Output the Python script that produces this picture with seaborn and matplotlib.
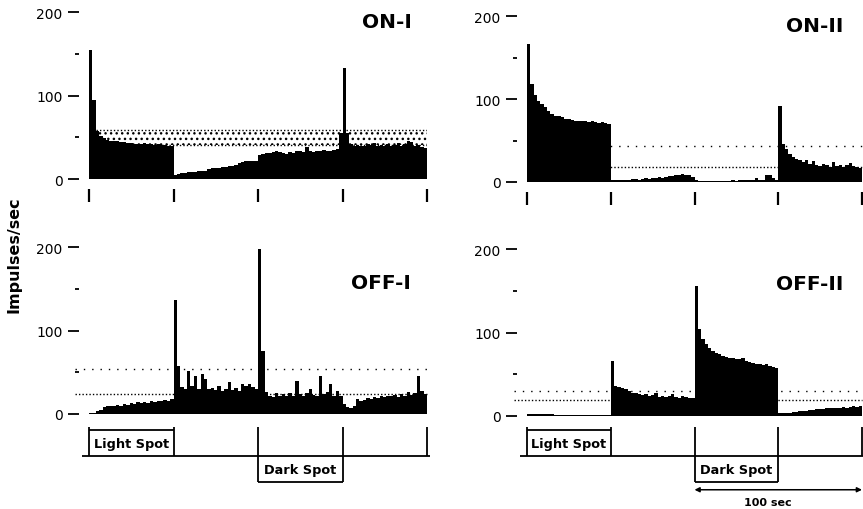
import numpy as np
import pandas as pd
import matplotlib.pyplot as plt
import seaborn as sns

sns.set_style("ticks")
plt.rcParams['font.family'] = ['DejaVu Sans']
plt.rcParams.update({"text.color": "black", "xtick.color": "black", "ytick.color": "black",
                     "axes.labelcolor": "black"})

# 2-sec bins over 200 sec (4 stimulus segments of 50 sec)
bin_edges = np.arange(0, 202, 2)
bin_centers = bin_edges[:-1] + 1
segment_bounds = [0, 50, 100, 150, 200]
light_spot = (0, 50)
dark_spot = (100, 150)

# impulses/sec per bin
on1_rates = [155, 95, 58, 52, 49, 47, 46, 45, 45, 44, 44, 43, 43, 42, 42, 42, 43, 42, 42, 41, 42, 41, 41, 40, 40,
             5, 6, 7, 7, 8, 8, 8, 9, 10, 10, 12, 13, 13, 13, 14, 14, 15, 16, 17, 19, 20, 21, 21, 22, 22,
             29, 30, 31, 31, 32, 33, 32, 31, 30, 32, 31, 33, 34, 32, 38, 33, 32, 34, 33, 35, 34, 33, 35, 36, 55,
             133, 55, 42, 40, 41, 39, 40, 42, 41, 43, 40, 41, 39, 42, 40, 41, 43, 40, 42, 46, 44, 40, 41, 38, 37]
on2_rates = [166, 118, 105, 98, 94, 90, 86, 82, 80, 79, 78, 76, 76, 75, 74, 74, 73, 74, 72, 73, 72, 71, 72, 71, 70,
             2, 2, 3, 2, 3, 3, 4, 4, 3, 4, 5, 4, 5, 5, 6, 5, 6, 7, 7, 8, 9, 10, 9, 8, 6,
             3, 1, 1, 1, 1, 1, 1, 1, 1, 1, 1, 2, 1, 2, 2, 2, 2, 3, 5, 3, 2, 8, 9, 5, 2,
             92, 46, 40, 34, 30, 28, 26, 24, 27, 22, 25, 20, 19, 22, 20, 18, 24, 19, 21, 18, 20, 23, 19, 18, 17]
off1_rates = [1, 1, 3, 5, 8, 9, 9, 10, 11, 10, 12, 11, 13, 12, 14, 13, 14, 13, 15, 14, 16, 15, 17, 16, 18,
              136, 58, 32, 30, 52, 34, 46, 30, 48, 42, 30, 31, 29, 33, 28, 30, 38, 29, 31, 28, 36, 34, 36, 32, 30,
              198, 75, 26, 22, 20, 25, 22, 24, 21, 25, 22, 40, 24, 22, 25, 30, 23, 22, 46, 24, 26, 36, 22, 27, 22,
              12, 8, 7, 10, 18, 16, 17, 19, 18, 20, 19, 21, 20, 22, 21, 23, 20, 24, 22, 26, 23, 25, 46, 27, 24]
off2_rates = [2, 2, 2, 2, 2, 2, 2, 2, 1.5, 1.5, 1, 1, 1, 1, 1, 1, 1, 1, 1, 1, 1, 1, 1, 1, 1,
              66, 36, 35, 34, 32, 30, 28, 27, 26, 25, 26, 24, 25, 27, 23, 24, 23, 24, 26, 23, 22, 24, 23, 22, 21,
              156, 104, 92, 86, 81, 78, 76, 74, 72, 71, 70, 69, 68, 68, 70, 66, 65, 64, 62, 62, 61, 62, 60, 59, 58,
              3, 3, 4, 4, 5, 5, 6, 6, 6, 7, 7, 8, 8, 8, 9, 9, 9, 10, 10, 11, 10, 11, 12, 11, 12]

# dotted reference levels (upper, lower) drawn behind each histogram
on1_levels = (59, 41)
on2_levels = (43, 18)
off1_levels = (54, 24)
off2_levels = (30, 19.5)

W, H = 863, 510
fig = plt.figure(figsize=(W / 100, H / 100), dpi=100)


def px_axes(x0, x1, y_top, y_bottom):
    return fig.add_axes([x0 / W, 1 - y_bottom / H, (x1 - x0) / W, (y_bottom - y_top) / H])


def draw_panel(ax, rates, levels, title, title_x, title_y, band=False, x_ticks=True, line_start=0):
    df = pd.DataFrame({"t": bin_centers, "rate": rates})
    sns.histplot(data=df, x="t", weights="rate", binwidth=2, binrange=(0, 200), element="step",
                 fill=True, color="black", alpha=1, linewidth=0, ax=ax, zorder=3)
    upper, lower = levels
    if band:
        ax.fill_between([line_start, 200], lower, upper, facecolor="none", edgecolor="black",
                        hatch="...", linewidth=0, zorder=1)
        ax.hlines([upper, lower], line_start, 200, colors="black", linestyles=(0, (1, 1.5)), lw=1, zorder=1)
    else:
        ax.hlines(upper, line_start, 200, colors="black", linestyles=(0, (1, 5)), lw=1, zorder=1, clip_on=False)
        ax.hlines(lower, line_start, 200, colors="black", linestyles=(0, (1, 1.5)), lw=1, zorder=1, clip_on=False)
    ax.set_xlim(0, 200)
    ax.set_ylim(0, 200)
    ax.set_xlabel("")
    ax.set_ylabel("")
    ax.set_yticks([0, 100, 200])
    ax.set_yticks([50, 150], minor=True)
    ax.set_yticklabels(["0", "100", "200"], fontsize=8.5, fontweight="bold")
    ax.tick_params(axis="y", which="major", length=8, width=1.3, pad=4, direction="out")
    ax.tick_params(axis="y", which="minor", length=3, width=1.3, direction="out")
    ax.spines["left"].set_position(("outward", 7))
    for s in ["left", "right", "top", "bottom"]:
        ax.spines[s].set_visible(False)
    if x_ticks:
        ax.spines["bottom"].set_position(("outward", 7))
        ax.set_xticks(segment_bounds)
        ax.set_xticklabels([])
        ax.tick_params(axis="x", length=9.5, width=1.6, direction="out")
    else:
        ax.set_xticks([])
    ax.text(title_x, title_y, title, fontsize=14.5, fontweight="bold", ha="center", va="center")


def draw_stimulus(ax, scale_bar=False):
    ax.set_xlim(0, 200)
    ax.set_ylim(-1.8, 1.1)
    ax.axis("off")
    kw = dict(color="black", lw=1.3, clip_on=False, solid_capstyle="butt")
    ax.plot([-4, 202], [0, 0], **kw)
    for b in segment_bounds:
        ax.plot([b, b], [0, 1.0], **kw)
    ax.plot(light_spot, [0.88, 0.88], **kw)
    ax.text(sum(light_spot) / 2, 0.42, "Light Spot", fontsize=9.3, fontweight="bold",
            ha="center", va="center")
    for b in dark_spot:
        ax.plot([b, b], [0, -0.9], **kw)
    ax.plot(dark_spot, [-0.9, -0.9], **kw)
    ax.text(sum(dark_spot) / 2, -0.46, "Dark Spot", fontsize=9.3, fontweight="bold",
            ha="center", va="center")
    if scale_bar:
        ax.annotate("", xy=(200, -1.17), xytext=(100, -1.17),
                    arrowprops=dict(arrowstyle="<|-|>", color="black", lw=1.1,
                                    mutation_scale=7, shrinkA=0, shrinkB=0),
                    annotation_clip=False)
        ax.text(144, -1.6, "100 sec", fontsize=8, fontweight="bold", ha="center", va="center")


ax_on1 = px_axes(89, 427, 13, 180)
ax_on2 = px_axes(527, 862, 17, 183)
ax_off1 = px_axes(89, 427, 248, 415)
ax_off2 = px_axes(527, 862, 250, 417)
ax_stim1 = px_axes(89, 427, 425, 509)
ax_stim2 = px_axes(527, 862, 425, 509)

draw_panel(ax_on1, on1_rates, on1_levels, "ON-I", 176, 189, band=True, line_start=4)
draw_panel(ax_on2, on2_rates, on2_levels, "ON-II", 172, 189)
draw_panel(ax_off1, off1_rates, off1_levels, "OFF-I", 173, 157, x_ticks=False, line_start=-8)
draw_panel(ax_off2, off2_rates, off2_levels, "OFF-II", 169, 159, x_ticks=False, line_start=-8)
draw_stimulus(ax_stim1)
draw_stimulus(ax_stim2, scale_bar=True)

fig.text(14 / W, 0.5, "Impulses/sec", rotation=90, fontsize=11.5, fontweight="bold",
         ha="center", va="center")

fig.savefig("out.png", dpi=100)
